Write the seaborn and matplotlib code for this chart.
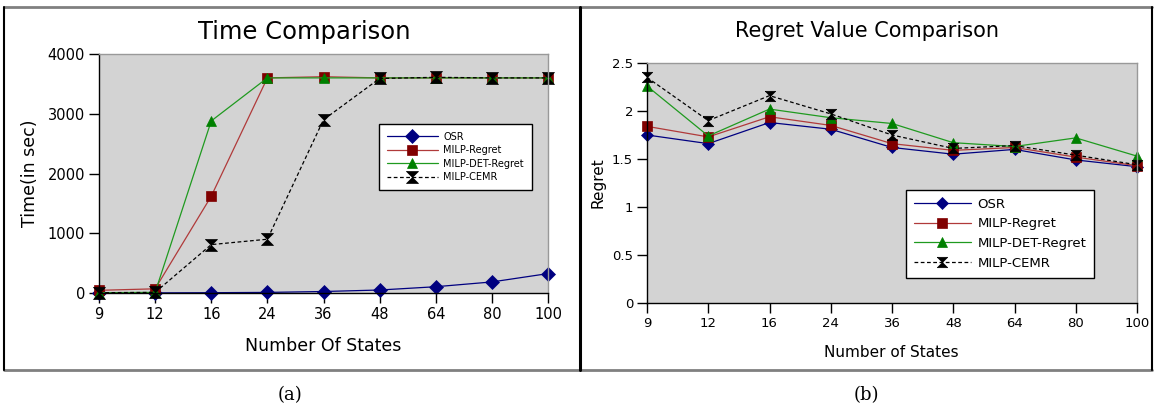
import numpy as np
import pandas as pd
import matplotlib
matplotlib.use("Agg")
import matplotlib.pyplot as plt
from matplotlib.lines import Line2D
import seaborn as sns

# Data
states = ["9", "12", "16", "24", "36", "48", "64", "80", "100"]
methods = ["OSR", "MILP-Regret", "MILP-DET-Regret", "MILP-CEMR"]

time_osr = [0, 2, 5, 10, 25, 50, 105, 185, 325]
time_milp_regret = [45, 70, 1620, 3600, 3620, 3600, 3600, 3600, 3600]
time_milp_det = [5, 10, 2880, 3600, 3600, 3600, 3600, 3600, 3600]
time_milp_cemr = [5, 10, 810, 900, 2900, 3590, 3610, 3600, 3600]

regret_osr = [1.75, 1.66, 1.88, 1.81, 1.62, 1.55, 1.60, 1.49, 1.42]
regret_milp_regret = [1.84, 1.73, 1.94, 1.85, 1.66, 1.59, 1.62, 1.52, 1.43]
regret_milp_det = [2.26, 1.74, 2.02, 1.93, 1.87, 1.67, 1.63, 1.72, 1.53]
regret_milp_cemr = [2.35, 1.90, 2.16, 1.97, 1.75, 1.61, 1.64, 1.54, 1.44]

time_df = pd.DataFrame({"states": states * 4,
                        "method": np.repeat(methods, len(states)),
                        "value": time_osr + time_milp_regret + time_milp_det + time_milp_cemr})
regret_df = pd.DataFrame({"states": states * 4,
                          "method": np.repeat(methods, len(states)),
                          "value": regret_osr + regret_milp_regret + regret_milp_det + regret_milp_cemr})

# style per method: line colour, marker colour, marker, linestyle, size factor
hourglass = [(-1, 1), (1, 1), (-1, -1), (1, -1), (-1, 1)]
styles = {
    "OSR": ("#000080", "#000080", "D", "-", 1.0),
    "MILP-Regret": ("#b03a3a", "#800000", "s", "-", 1.0),
    "MILP-DET-Regret": ("#1f9a1f", "#008000", "^", "-", 1.05),
    "MILP-CEMR": ("#000000", "#000000", hourglass, (0, (3, 2)), 1.15),
}

W, H = 1156, 409
sns.set_style("white")
plt.rcParams["font.family"] = ["DejaVu Sans"]
plt.rcParams["text.color"] = "black"
plt.rcParams["axes.labelcolor"] = "black"
plt.rcParams["xtick.color"] = "black"
plt.rcParams["ytick.color"] = "black"
fig = plt.figure(figsize=(W / 100, H / 100), dpi=100)


def box(x0, y0, x1, y1):
    return [x0 / W, 1 - y1 / H, (x1 - x0) / W, (y1 - y0) / H]


ax1 = fig.add_axes(box(99, 54, 548, 293))
ax2 = fig.add_axes(box(647, 63, 1137, 303))


def draw(ax, df, msize, lw):
    for m in methods:
        lc, mc, mk, ls, f = styles[m]
        sub = df[df["method"] == m]
        sns.lineplot(data=sub, x="states", y="value", ax=ax, sort=False, errorbar=None,
                     color=lc, marker=mk, markersize=msize * f, linestyle=ls, linewidth=lw,
                     markerfacecolor=mc, markeredgecolor=mc, markeredgewidth=0.5,
                     clip_on=False, label=m)
    ax.set_facecolor("#d3d3d3")
    ax.set_xlim(0, len(states) - 1)
    for s in ["top", "right"]:
        ax.spines[s].set_color("#999999")
        ax.spines[s].set_linewidth(1.0)
    for s in ["left", "bottom"]:
        ax.spines[s].set_color("black")
        ax.spines[s].set_linewidth(1.0)
    ax.tick_params(direction="out", length=7, width=1, color="black", pad=3,
                   bottom=True, left=True)


draw(ax1, time_df, 7.5, 0.9)
draw(ax2, regret_df, 6.5, 0.9)

# left panel
ax1.set_ylim(0, 4000)
ax1.set_yticks([0, 1000, 2000, 3000, 4000])
ax1.tick_params(labelsize=10.5)
ax1.set_xlabel("Number Of States", fontsize=12.5)
ax1.set_ylabel("Time(in sec)", fontsize=12.5)
ax1.xaxis.set_label_coords(0.499, -0.184)
ax1.yaxis.set_label_coords(-0.134, 0.5)
ax1.legend(loc="upper left", bbox_to_anchor=(0.624, 0.707), borderaxespad=0,
           fontsize=7, fancybox=False, framealpha=1, edgecolor="black",
           handlelength=5.2, handletextpad=0.6, labelspacing=0.35, borderpad=0.8)

# right panel
ax2.set_ylim(0, 2.5)
ax2.set_yticks([0, 0.5, 1, 1.5, 2, 2.5])
ax2.set_yticklabels(["0", "0.5", "1", "1.5", "2", "2.5"])
ax2.tick_params(labelsize=9.5)
ax2.set_xlabel("Number of States", fontsize=11)
ax2.set_ylabel("Regret", fontsize=11)
ax2.xaxis.set_label_coords(0.498, -0.175)
ax2.yaxis.set_label_coords(-0.084, 0.5)
ax2.legend(loc="upper left", bbox_to_anchor=(0.529, 0.471), borderaxespad=0,
           fontsize=9.5, fancybox=False, framealpha=1, edgecolor="black",
           handlelength=4.3, handletextpad=0.5, labelspacing=0.5, borderpad=0.6)

# titles
fig.text(304 / W, 1 - 32 / H, "Time Comparison", fontsize=17.5, ha="center", va="center")
fig.text(867 / W, 1 - 31 / H, "Regret Value Comparison", fontsize=15, ha="center", va="center")


# panel frames
def fline(x0, y0, x1, y1, color, lw):
    fig.add_artist(Line2D([x0 / W, x1 / W], [1 - y0 / H, 1 - y1 / H],
                          color=color, linewidth=lw, transform=fig.transFigure))


fline(4, 7, 1152, 7, "#808080", 2)
fline(4, 370, 1152, 370, "#808080", 2)
fline(4, 7, 4, 370, "black", 1.5)
fline(580, 7, 580, 370, "black", 2.2)
fline(1152, 7, 1152, 370, "black", 1.5)

# captions
fig.text(290 / W, 1 - 395 / H, "(a)", fontsize=13, ha="center", va="center",
         family=["DejaVu Serif"])
fig.text(866 / W, 1 - 395 / H, "(b)", fontsize=13, ha="center", va="center",
         family=["DejaVu Serif"])

fig.savefig("out.png", dpi=100)
